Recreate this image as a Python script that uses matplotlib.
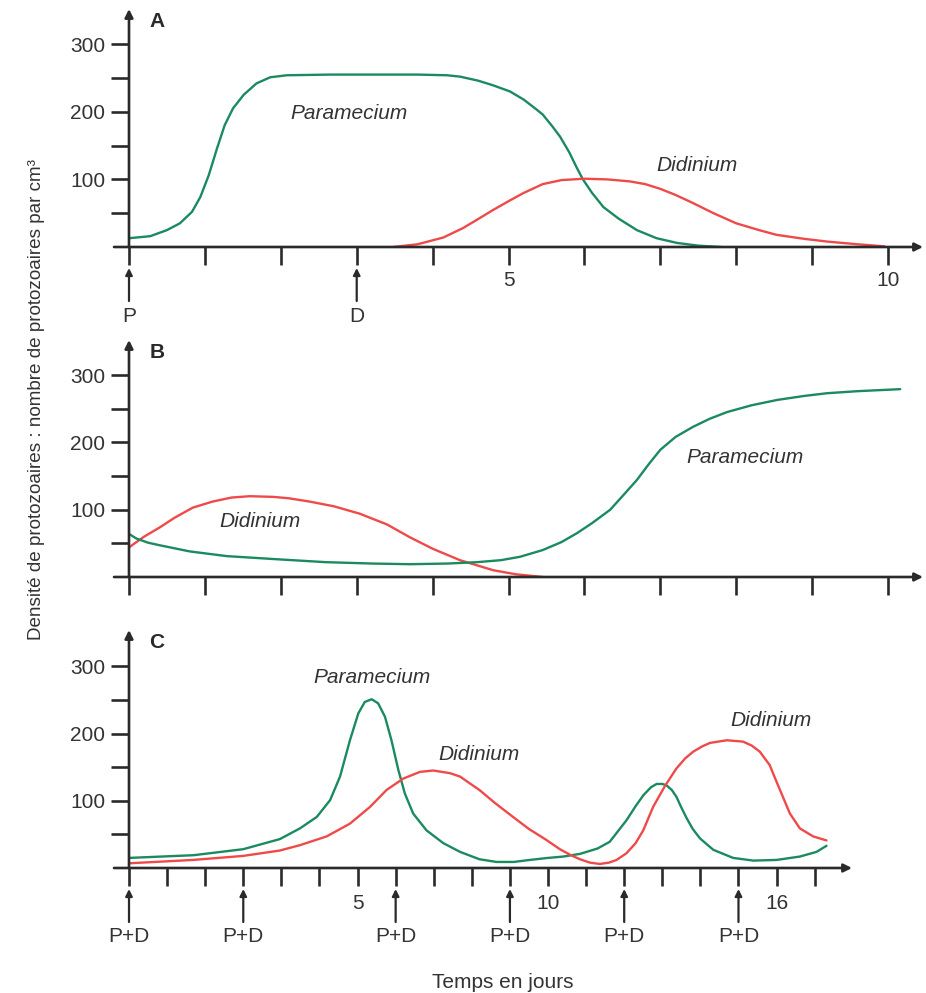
import matplotlib
matplotlib.use("Agg")
import matplotlib.pyplot as plt

plt.rcParams['font.family'] = ['Liberation Sans', 'DejaVu Sans']

# ---------------- data ----------------
# Panel A (x in days)
a_para_x = [0, 0.28, 0.5, 0.67, 0.83, 0.94, 1.05, 1.16, 1.26, 1.37, 1.51, 1.68, 1.86, 2.08,
            2.65, 3.2, 3.8, 4.19, 4.36, 4.6, 4.8, 5.02, 5.2, 5.35, 5.45, 5.58, 5.68, 5.8, 5.9,
            5.98, 6.1, 6.25, 6.45, 6.69, 6.95, 7.22, 7.5, 7.8]
a_para_y = [13, 16, 25, 35, 52, 74, 106, 146, 180, 205, 225, 242, 251, 254,
            255, 255, 255, 254, 252, 246, 239, 230, 218, 205, 196, 178, 163, 140, 117,
            100, 80, 59, 42, 25, 13, 6, 2, 0]
a_didi_x = [3.48, 3.8, 4.14, 4.4, 4.58, 4.8, 5.02, 5.2, 5.45, 5.7, 6.0, 6.3, 6.6, 6.8, 7.0, 7.2,
            7.43, 7.7, 8.0, 8.3, 8.53, 8.9, 9.2, 9.6, 9.95]
a_didi_y = [0, 4, 14, 28, 40, 55, 69, 80, 93, 99, 101, 100, 97, 93, 86, 77,
            65, 50, 35, 25, 18, 12, 8, 4, 1]

# Panel B (x in days)
b_didi_x = [0, 0.2, 0.41, 0.6, 0.84, 1.1, 1.35, 1.59, 1.9, 2.1, 2.38, 2.7, 3.04, 3.4, 3.7, 4.0,
            4.36, 4.8, 5.1, 5.45]
b_didi_y = [44, 60, 74, 88, 103, 112, 118, 120, 119, 117, 112, 105, 94, 78, 59, 42,
            25, 10, 4, 0]
b_para_x = [0, 0.1, 0.25, 0.41, 0.8, 1.29, 2.0, 2.6, 3.2, 3.7, 4.2, 4.58, 4.9, 5.15, 5.45, 5.7,
            5.9, 6.1, 6.34, 6.5, 6.69, 6.85, 7.0, 7.2, 7.43, 7.65, 7.88, 8.2, 8.54, 8.9, 9.2,
            9.6, 10.16]
b_para_y = [64, 57, 51, 47, 38, 31, 26, 22, 20, 19, 20, 22, 25, 30, 40, 52,
            65, 80, 100, 120, 144, 168, 189, 208, 223, 235, 245, 255, 263, 269, 273,
            276, 279]

# Panel C (x in tick positions along the drawn axis)
c_para_x = [0, 1.69, 3.0, 3.96, 4.49, 4.93, 5.28, 5.54, 5.8, 6.02, 6.19, 6.37, 6.54, 6.72, 6.89,
            7.07, 7.24, 7.46, 7.81, 8.25, 8.69, 9.2, 9.65, 10.1, 10.52, 11.0, 11.4, 11.84,
            12.3, 12.62, 13.06, 13.3, 13.5, 13.7, 13.85, 14.0, 14.11, 14.25, 14.37, 14.5,
            14.64, 14.8, 14.99, 15.34, 15.86, 16.39, 17.0, 17.61, 18.05, 18.31]
c_para_y = [15, 19, 28, 43, 59, 76, 101, 136, 190, 230, 247, 251, 245, 225, 190,
            146, 111, 81, 56, 37, 24, 13, 9, 9, 12, 15, 17, 21,
            29, 39, 71, 92, 108, 120, 125, 125, 123, 116, 106, 90,
            74, 58, 44, 27, 15, 11, 12, 17, 24, 33]
c_didi_x = [0, 1.69, 3.0, 3.96, 4.49, 5.19, 5.8, 6.33, 6.76, 7.2, 7.64, 7.99, 8.43, 8.69, 9.2,
            9.6, 10.08, 10.5, 10.95, 11.31, 11.6, 11.84, 12.1, 12.36, 12.6, 12.8, 13.06, 13.3,
            13.5, 13.76, 14.07, 14.37, 14.6, 14.81, 15.05, 15.25, 15.69, 16.12, 16.35, 16.56,
            16.82, 16.95, 17.09, 17.35, 17.61, 17.96, 18.31]
c_didi_y = [7, 12, 18, 26, 34, 47, 66, 91, 116, 133, 143, 145, 141, 136, 116,
            97, 76, 58, 42, 28, 19, 13, 8, 6, 8, 12, 22, 37,
            56, 91, 122, 148, 163, 173, 181, 186, 190, 188, 182, 173,
            153, 135, 116, 81, 59, 47, 41]

c_tick_labels = {6: '5', 11: '10', 17: '16'}
c_arrows = [0, 3, 7, 10, 13, 16]

GREEN = '#1b8a5f'
RED = '#ee4a4a'
AX = '#2a2a2a'
TXT = '#333333'
FS = 15

W, H = 926, 993
fig = plt.figure(figsize=(W / 100, H / 100), dpi=100)


def make_ax(left, right, bottom, top, xmax, ymax):
    ax = fig.add_axes([left / W, 1 - bottom / H, (right - left) / W, (bottom - top) / H])
    ax.set_xlim(0, xmax)
    ax.set_ylim(0, ymax)
    for s in ax.spines.values():
        s.set_visible(False)
    ax.patch.set_visible(False)
    ax.annotate('', xy=(0, ymax), xytext=(0, 0), xycoords='data',
                arrowprops=dict(arrowstyle='-|>', color=AX, lw=1.9, mutation_scale=12,
                                shrinkA=0, shrinkB=0), annotation_clip=False)
    ax.annotate('', xy=(xmax, 0), xytext=(-15 * xmax / (right - left), 0), xycoords='data',
                arrowprops=dict(arrowstyle='-|>', color=AX, lw=1.9, mutation_scale=12,
                                shrinkA=0, shrinkB=0), annotation_clip=False)
    ax.set_yticks([50, 100, 150, 200, 250, 300])
    ax.set_yticklabels(['', '100', '', '200', '', '300'])
    ax.tick_params(axis='both', direction='out', length=13, width=1.9, color=AX,
                   labelsize=FS, labelcolor=TXT)
    ax.tick_params(axis='y', pad=4)
    ax.tick_params(axis='x', pad=4)
    return ax


def curve(ax, x, y, color):
    ax.plot(x, y, color=color, lw=1.7, solid_joinstyle='round', solid_capstyle='round')


def below_arrow(ax, x, pxscale, label):
    ax.annotate('', xy=(x, -21 / pxscale), xytext=(x, -54 / pxscale), xycoords='data',
                arrowprops=dict(arrowstyle='-|>', color=AX, lw=1.6, mutation_scale=10,
                                shrinkA=0, shrinkB=0), annotation_clip=False)
    ax.text(x, -69 / pxscale, label, ha='center', va='center', fontsize=FS, color=TXT,
            clip_on=False)


# ---------------- Panel A ----------------
sA = (247 - 9) / 352
axA = make_ax(129, 923, 247, 9, 10.46, 352)
curve(axA, a_para_x, a_para_y, GREEN)
curve(axA, a_didi_x, a_didi_y, RED)
axA.set_xticks(range(11))
axA.set_xticklabels(['', '', '', '', '', '5', '', '', '', '', '10'])
axA.text(2.9, 197, 'Paramecium', style='italic', fontsize=FS, color=TXT, ha='center', va='center')
axA.text(7.48, 120, 'Didinium', style='italic', fontsize=FS, color=TXT, ha='center', va='center')
axA.text(0.37, 333, 'A', fontweight='bold', fontsize=FS, color=AX, ha='center', va='center')
below_arrow(axA, 0, sA, 'P')
below_arrow(axA, 3, sA, 'D')

# ---------------- Panel B ----------------
axB = make_ax(129, 923, 577, 340, 10.46, 352)
curve(axB, b_didi_x, b_didi_y, RED)
curve(axB, b_para_x, b_para_y, GREEN)
axB.set_xticks(range(11))
axB.set_xticklabels([''] * 11)
axB.text(1.73, 83, 'Didinium', style='italic', fontsize=FS, color=TXT, ha='center', va='center')
axB.text(8.12, 178, 'Paramecium', style='italic', fontsize=FS, color=TXT, ha='center', va='center')
axB.text(0.37, 333, 'B', fontweight='bold', fontsize=FS, color=AX, ha='center', va='center')

# ---------------- Panel C ----------------
sC = (868 - 630) / 354
axC = make_ax(129, 852, 868, 630, 18.98, 354)
curve(axC, c_para_x, c_para_y, GREEN)
curve(axC, c_didi_x, c_didi_y, RED)
axC.set_xticks(range(19))
axC.set_xticklabels([c_tick_labels.get(i, '') for i in range(19)])
axC.tick_params(axis='x', pad=6)
axC.text(6.38, 284, 'Paramecium', style='italic', fontsize=FS, color=TXT, ha='center', va='center')
axC.text(9.19, 169, 'Didinium', style='italic', fontsize=FS, color=TXT, ha='center', va='center')
axC.text(16.85, 220, 'Didinium', style='italic', fontsize=FS, color=TXT, ha='center', va='center')
axC.text(0.72, 336, 'C', fontweight='bold', fontsize=FS, color=AX, ha='center', va='center')
for xa in c_arrows:
    below_arrow(axC, xa, sC, 'P+D')

# ---------------- figure labels ----------------
fig.text(37 / W, 1 - 400 / H, 'Densité de protozoaires : nombre de protozoaires par cm³',
         rotation=90, ha='center', va='center', fontsize=13.6, color=TXT)
fig.text(503 / W, 1 - 982 / H, 'Temps en jours', ha='center', va='center', fontsize=FS, color=TXT)

fig.savefig('out.png', dpi=100)
